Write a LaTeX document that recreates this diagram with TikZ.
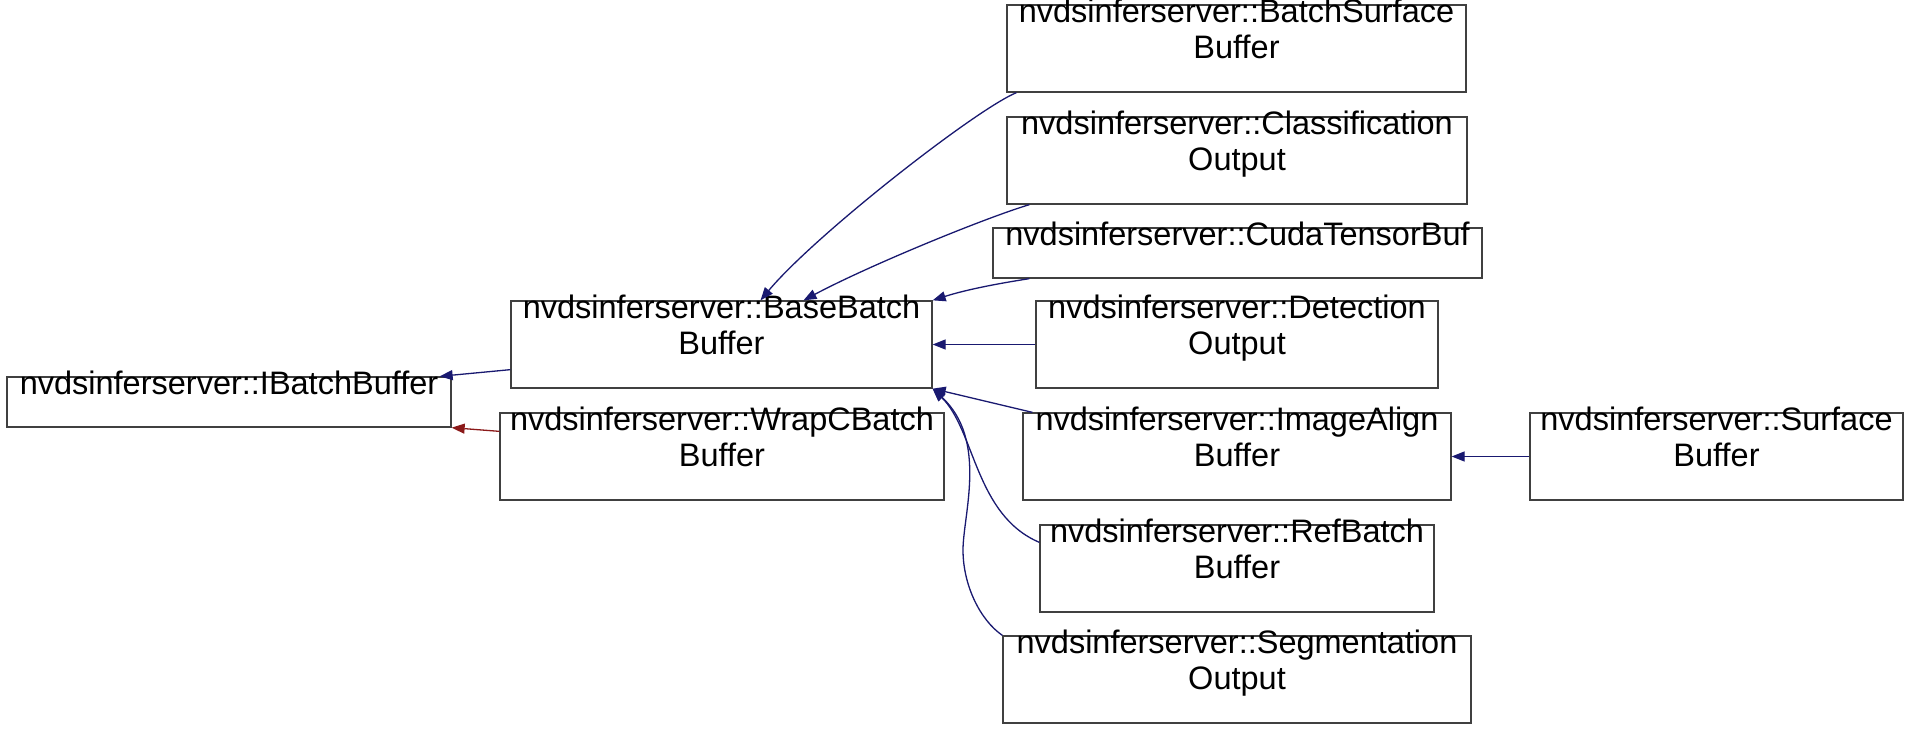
\documentclass[tikz,border=0pt]{standalone}
\usepackage{fontspec}
\setmainfont{Liberation Sans}
\usepackage{xcolor}
\usetikzlibrary{arrows.meta}
\definecolor{navy}{HTML}{191970}
\definecolor{fire}{HTML}{8B1A1A}

\begin{document}
\begin{tikzpicture}[
  x=1pt, y=-1pt,
  font=\fontsize{32.5}{36}\selectfont,
  klass/.style={draw=black!75, line width=1.3pt, inner sep=0pt, align=center, text height=53pt, text depth=34pt},
  klassone/.style={klass, text height=17pt, text depth=33pt},
  arr/.style={draw=navy, line width=1.3pt, -{Triangle[length=13pt, width=10pt]}},
  arrpriv/.style={arr, draw=fire}
]
\useasboundingbox (0,0) rectangle (1909,731);
\node[klassone, minimum width=444pt] (ibb) at (229,402) {nvdsinferserver::IBatchBuffer};
\node[klass, minimum width=421pt] (base) at (721.5,344.5) {nvdsinferserver::BaseBatch\\Buffer};
\node[klass, minimum width=444pt] (wrap) at (722,456.5) {nvdsinferserver::WrapCBatch\\Buffer};
\node[klass, minimum width=459pt] (bsurf) at (1236.5,48.5) {nvdsinferserver::BatchSurface\\Buffer};
\node[klass, minimum width=460pt] (cls) at (1237,160.5) {nvdsinferserver::Classification\\Output};
\node[klassone, minimum width=489pt] (cuda) at (1237.5,253) {nvdsinferserver::CudaTensorBuf};
\node[klass, minimum width=402pt] (det) at (1237,344.5) {nvdsinferserver::Detection\\Output};
\node[klass, minimum width=428pt] (img) at (1237,456.5) {nvdsinferserver::ImageAlign\\Buffer};
\node[klass, minimum width=394pt] (ref) at (1237,568.5) {nvdsinferserver::RefBatch\\Buffer};
\node[klass, minimum width=468pt] (seg) at (1237,679.5) {nvdsinferserver::Segmentation\\Output};
\node[klass, minimum width=373pt] (surf) at (1716.5,456.5) {nvdsinferserver::Surface\\Buffer};
\draw[arr] ([xshift=10pt]bsurf.south west) .. controls (975,110) and (815,235) .. ([xshift=39pt]base.north);
\draw[arr] ([xshift=23pt]cls.south west) .. controls (985,218) and (870,265) .. ([xshift=82pt]base.north);
\draw[arr] ([xshift=37pt]cuda.south west) .. controls (995,284) and (965,290) .. (base.north east);
\draw[arr] (det.west) -- (base.east);
\draw[arr] ([xshift=10pt]img.north west) -- (base.south east);
\draw[arr] ([yshift=-18pt]ref.north west) .. controls (975,515) and (975,430) .. (base.south east);
\draw[arr] (seg.north west) .. controls (980,620) and (963,585) .. (963,550) .. controls (963,515) and (988,440) .. (base.south east);
\draw[arr] ([yshift=19pt]base.south west) -- ([xshift=-12pt]ibb.north east);
\draw[arrpriv] ([yshift=-19pt]wrap.north west) -- (ibb.south east);
\draw[arr] (surf.west) -- (img.east);
\end{tikzpicture}
\end{document}
